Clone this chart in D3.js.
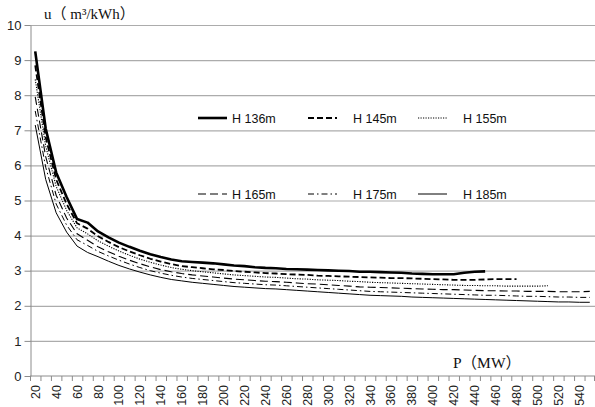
<!DOCTYPE html>
<html>
<head>
<meta charset="utf-8">
<script src="https://cdn.jsdelivr.net/npm/d3@7"></script>
<style>
  body { margin: 0; background: #fff; }
  svg { display: block; }
  .grid line { stroke: #acacac; stroke-width: 1.2; }
  .grid .domain { display: none; }
  .y.axis .domain, .y.axis line { stroke: #8c8c8c; }
  .y.axis text { font-family: "Liberation Sans", Arial, sans-serif; font-size: 13px; fill: #222; }
  .x.axis text { font-family: "Liberation Sans", Arial, sans-serif; font-size: 12.5px; fill: #222; }
  .legend text { font-family: "Liberation Sans", Arial, sans-serif; font-size: 12.5px; fill: #111; }
  .title { font-family: "Liberation Serif", "Noto Sans CJK SC", serif; fill: #111; }
</style>
</head>
<body>
<div id="chart"></div>
<script>
//Categories (P, MW) and y ticks
var pValues = d3.range(20, 551, 10);
var yTicks = [0, 1, 2, 3, 4, 5, 6, 7, 8, 9, 10];
var xLabels = d3.range(20, 541, 20);

//Series values (u, m3/kWh), starting at P = 20
var h136 = [9.25, 7.05, 5.8, 5.1, 4.47, 4.37, 4.12, 3.95, 3.8, 3.68, 3.57, 3.47, 3.39, 3.32, 3.27, 3.25, 3.23, 3.21, 3.18, 3.15,
            3.13, 3.1, 3.08, 3.07, 3.05, 3.04, 3.03, 3.02, 3.01, 3.0, 2.99, 2.97, 2.97, 2.96, 2.95, 2.94, 2.92, 2.91, 2.9, 2.9,
            2.9, 2.94, 2.97, 2.98];
var h145 = [8.85, 6.8, 5.6, 4.9, 4.35, 4.2, 3.98, 3.82, 3.67, 3.55, 3.44, 3.34, 3.26, 3.19, 3.13, 3.1, 3.07, 3.04, 3.02, 2.99,
            2.97, 2.95, 2.93, 2.92, 2.9, 2.89, 2.88, 2.86, 2.85, 2.84, 2.83, 2.82, 2.81, 2.8, 2.79, 2.79, 2.78, 2.77, 2.76, 2.75,
            2.74, 2.74, 2.74, 2.75, 2.76, 2.76, 2.76];
var h155 = [8.45, 6.55, 5.4, 4.72, 4.22, 4.05, 3.85, 3.7, 3.56, 3.44, 3.33, 3.24, 3.16, 3.09, 3.04, 3.0, 2.97, 2.94, 2.91, 2.88,
            2.86, 2.84, 2.82, 2.81, 2.79, 2.77, 2.76, 2.74, 2.73, 2.72, 2.7, 2.69, 2.67, 2.66, 2.65, 2.64, 2.63, 2.62, 2.61, 2.6,
            2.59, 2.58, 2.58, 2.57, 2.57, 2.56, 2.56, 2.56, 2.56, 2.57];
var h165 = [7.95, 6.25, 5.15, 4.5, 4.05, 3.87, 3.68, 3.54, 3.41, 3.3, 3.2, 3.11, 3.03, 2.97, 2.92, 2.88, 2.85, 2.82, 2.79, 2.76,
            2.74, 2.72, 2.7, 2.69, 2.67, 2.65, 2.63, 2.62, 2.6, 2.58, 2.56, 2.54, 2.53, 2.52, 2.51, 2.5, 2.49, 2.48, 2.47, 2.46,
            2.46, 2.45, 2.44, 2.43, 2.43, 2.42, 2.42, 2.41, 2.41, 2.41, 2.4, 2.4, 2.4, 2.41];
var h175 = [7.55, 5.95, 4.9, 4.3, 3.88, 3.72, 3.55, 3.42, 3.3, 3.19, 3.09, 3.0, 2.93, 2.87, 2.82, 2.78, 2.75, 2.72, 2.69, 2.66,
            2.64, 2.62, 2.6, 2.59, 2.57, 2.55, 2.53, 2.51, 2.49, 2.47, 2.45, 2.43, 2.41, 2.4, 2.39, 2.38, 2.37, 2.36, 2.35, 2.34,
            2.33, 2.32, 2.31, 2.3, 2.3, 2.29, 2.28, 2.27, 2.27, 2.26, 2.25, 2.25, 2.24, 2.24];
var h185 = [7.15, 5.6, 4.65, 4.1, 3.7, 3.52, 3.4, 3.27, 3.15, 3.05, 2.96, 2.88, 2.81, 2.75, 2.71, 2.67, 2.64, 2.61, 2.58, 2.55,
            2.53, 2.51, 2.49, 2.48, 2.46, 2.44, 2.42, 2.4, 2.38, 2.36, 2.34, 2.32, 2.3, 2.29, 2.28, 2.27, 2.25, 2.24, 2.23, 2.22,
            2.21, 2.2, 2.19, 2.18, 2.17, 2.16, 2.15, 2.14, 2.13, 2.12, 2.11, 2.11, 2.1, 2.1];

var seriesNames = ["H 136m", "H 145m", "H 155m", "H 165m", "H 175m", "H 185m"];
var seriesValues = [h136, h145, h155, h165, h175, h185];

//Line styles per series
var styles = [
  {width: 2.6, dash: null},
  {width: 1.8, dash: "6,3"},
  {width: 1.1, dash: "1.2,1.3"},
  {width: 1.1, dash: "8,4"},
  {width: 1, dash: "6,3,1.5,3"},
  {width: 1, dash: null}
];

var width = 595, height = 407;
var margin = {top: 25, left: 30, right: 0, bottom: 31};

var svg = d3.select("#chart").append("svg")
    .attr("width", width)
    .attr("height", height);

var x = d3.scaleBand()
    .domain(pValues)
    .range([margin.left, width - margin.right])
    .padding(0);

var y = d3.scaleLinear()
    .domain([0, 10])
    .range([height - margin.bottom, margin.top]);

var xc = function(p) { return x(p) + x.bandwidth() / 2; };

//Horizontal grid
svg.append("g")
    .attr("class", "grid")
    .attr("transform", "translate(" + margin.left + ",0)")
    .call(d3.axisLeft(y).tickValues(yTicks.slice(1)).tickSize(-(width - margin.left)).tickFormat(""));

//X axis line (at 0)
svg.append("line")
    .attr("x1", margin.left).attr("x2", width)
    .attr("y1", y(0)).attr("y2", y(0))
    .attr("stroke", "#8c8c8c");

//X tick marks at category edges
svg.append("g")
    .selectAll("line")
    .data(pValues.concat(["end"]))
    .enter().append("line")
      .attr("x1", function(d) { return d === "end" ? x.range()[1] - 0.5 : x(d) + 0.5; })
      .attr("x2", function(d) { return d === "end" ? x.range()[1] - 0.5 : x(d) + 0.5; })
      .attr("y1", y(0))
      .attr("y2", y(0) + 5)
      .attr("stroke", "#8c8c8c");

//X labels, rotated
svg.append("g")
    .attr("class", "x axis")
    .selectAll("text")
    .data(xLabels)
    .enter().append("text")
      .attr("transform", function(d) { return "translate(" + (xc(d) + 4.5) + "," + (y(0) + 9) + ") rotate(-90)"; })
      .attr("text-anchor", "end")
      .text(function(d) { return d; });

//Y axis
svg.append("g")
    .attr("class", "y axis")
    .attr("transform", "translate(" + (margin.left + 0.5) + ",0)")
    .call(d3.axisLeft(y).tickValues(yTicks).tickSize(6).tickSizeOuter(0).tickPadding(3));

//Lines
var lineGen = d3.line()
    .x(function(d, i) { return xc(pValues[i]); })
    .y(function(d) { return y(d); });

seriesValues.forEach(function(vals, k) {
  svg.append("path")
      .datum(vals)
      .attr("fill", "none")
      .attr("stroke", "#000")
      .attr("stroke-width", styles[k].width)
      .attr("stroke-dasharray", styles[k].dash)
      .attr("stroke-linejoin", "round")
      .attr("d", lineGen);
});

//Legend
var legend = svg.append("g").attr("class", "legend");
var legendRows = [118, 194];
seriesNames.forEach(function(name, k) {
  var lx = 198 + (k % 3) * 110;
  var ly = legendRows[Math.floor(k / 3)];
  legend.append("line")
      .attr("x1", lx).attr("x2", lx + 29)
      .attr("y1", ly).attr("y2", ly)
      .attr("stroke", "#000")
      .attr("stroke-width", styles[k].width)
      .attr("stroke-dasharray", styles[k].dash);
  legend.append("text")
      .attr("x", lx + (k % 3 === 0 ? 34 : 45))
      .attr("y", ly + 4.5)
      .text(name);
});

//Axis titles
svg.append("text")
    .attr("class", "title")
    .attr("x", 44)
    .attr("y", 19)
    .style("font-size", "15px")
    .text("u（ m³/kWh）");

svg.append("text")
    .attr("class", "title")
    .attr("x", 453)
    .attr("y", 368)
    .style("font-size", "15.5px")
    .text("P（MW）");
</script>
</body>
</html>
